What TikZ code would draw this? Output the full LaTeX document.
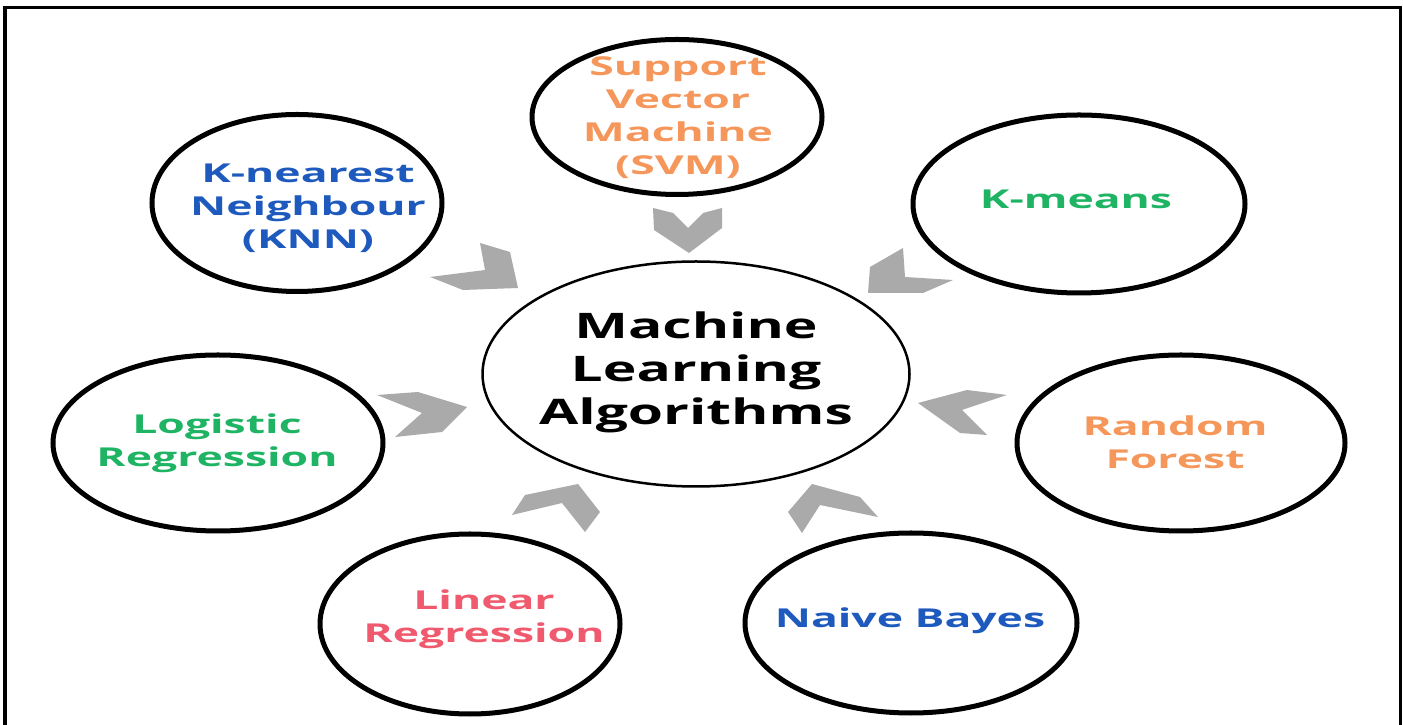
\documentclass[tikz,border=0pt]{standalone}
\usepackage{fontspec}
\usetikzlibrary{shapes.geometric}
\newfontfamily\outerf{Open Sans}[FakeStretch=1.71]
\newfontfamily\centerf{Open Sans}[FakeStretch=1.62]
\definecolor{mlblue}{RGB}{30,90,190}
\definecolor{mlorange}{RGB}{245,150,90}
\definecolor{mlgreen}{RGB}{30,180,100}
\definecolor{mlred}{RGB}{240,90,110}
\definecolor{chevgray}{RGB}{170,170,170}
\tikzset{
  ring/.style={draw=black, line width=0.05cm, ellipse, inner sep=0pt},
  hub/.style={draw=black, line width=0.025cm, ellipse, inner sep=0pt},
  lbl/.style={align=center, inner sep=0pt, font=\outerf\bfseries\fontsize{7.4}{9.4}\selectfont},
  hublbl/.style={align=center, inner sep=0pt, font=\centerf\bfseries\fontsize{10}{12.2}\selectfont},
  chev/.style={fill=chevgray, draw=none},
  frame/.style={draw=black, line width=0.03cm}
}
\begin{document}
\begin{tikzpicture}[x=0.01cm, y=-0.01cm]
\useasboundingbox (0,0) rectangle (1403,725);
\draw[frame] (5,725) -- (5,8) -- (1400,8) -- (1400,725);

% central node
\node[hub, minimum width=427*0.01cm, minimum height=225*0.01cm] (hub) at (696,374) {};
\node[hublbl] (hubT) at (696,372) {Machine\\Learning\\Algorithms};

% outer nodes
\node[ring, minimum width=290*0.01cm, minimum height=177*0.01cm] (knn) at (297,203) {};
\node[lbl, text=mlblue] (knnT) at (308,208) {K-nearest\\Neighbour\\(KNN)};

\node[ring, minimum width=290*0.01cm, minimum height=155*0.01cm] (svm) at (677,117) {};
\node[lbl, text=mlorange] (svmT) at (678,118) {Support\\Vector\\Machine\\(SVM)};

\node[ring, minimum width=332*0.01cm, minimum height=178*0.01cm] (kmeans) at (1079,204) {};
\node[lbl, text=mlgreen] (kmeansT) at (1076,199) {K-means};

\node[ring, minimum width=330*0.01cm, minimum height=176*0.01cm] (logit) at (218,443) {};
\node[lbl, text=mlgreen] (logitT) at (217,443) {Logistic\\Regression};

\node[ring, minimum width=328*0.01cm, minimum height=176*0.01cm] (rf) at (1181,443) {};
\node[lbl, text=mlorange] (rfT) at (1175,442) {Random\\Forest};

\node[ring, minimum width=300*0.01cm, minimum height=180*0.01cm] (linreg) at (470,624) {};
\node[lbl, text=mlred] (linregT) at (484,619) {Linear\\Regression};

\node[ring, minimum width=332*0.01cm, minimum height=180*0.01cm] (naive) at (911,623) {};
\node[lbl, text=mlblue] (naiveT) at (910,621) {Naive Bayes};

% chevrons pointing to the hub
\fill[chev] (430,277) -- (485,270) -- (480,243) -- (510,252) -- (518,288) -- (463,290) -- cycle; % KNN
\fill[chev] (653,208) -- (673,213) -- (688,228) -- (703,213) -- (722,208) -- (722,228) -- (689,253) -- (654,230) -- cycle; % SVM
\fill[chev] (868,293) -- (870,267) -- (903,248) -- (905,277) -- (953,280) -- (923,293) -- cycle; % K-means
\fill[chev] (377,395) -- (418,392) -- (467,407) -- (442,432) -- (395,437) -- (422,413) -- cycle; % Logistic
\fill[chev] (918,403) -- (967,390) -- (1007,395) -- (962,410) -- (987,435) -- (960,433) -- cycle; % Random Forest
\fill[chev] (512,515) -- (525,495) -- (578,484) -- (600,512) -- (585,532) -- (562,503) -- cycle; % Linear
\fill[chev] (788,512) -- (812,484) -- (860,497) -- (878,517) -- (820,505) -- (802,533) -- cycle; % Naive
\end{tikzpicture}
\end{document}
